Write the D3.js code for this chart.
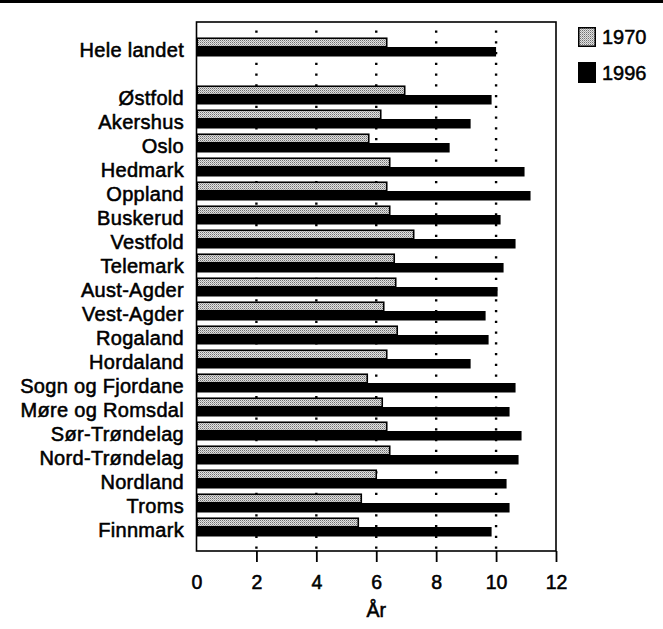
<!DOCTYPE html>
<html>
<head>
<meta charset="utf-8">
<script src="https://cdn.jsdelivr.net/npm/d3@7"></script>
<style>
  html, body { margin: 0; padding: 0; background: #fff; }
  svg { display: block; }
  text { font-family: "Liberation Sans", Arial, Helvetica, sans-serif; fill: #000; }
</style>
</head>
<body>
<svg id="chart" width="663" height="629"></svg>
<script>
// Regions (first row is the national total, followed by a blank spacer row)
const regions = ["Hele landet", "", "Østfold", "Akershus", "Oslo", "Hedmark", "Oppland",
  "Buskerud", "Vestfold", "Telemark", "Aust-Agder", "Vest-Agder", "Rogaland",
  "Hordaland", "Sogn og Fjordane", "Møre og Romsdal", "Sør-Trøndelag",
  "Nord-Trøndelag", "Nordland", "Troms", "Finnmark"];
const regionsWithData = regions.filter(d => d !== "");

// Years (År), one value per region with data
const values1970 = [6.35, 6.95, 6.15, 5.75, 6.45, 6.35, 6.45, 7.25, 6.6, 6.65,
  6.25, 6.7, 6.35, 5.7, 6.2, 6.35, 6.45, 6.0, 5.5, 5.4];
const values1996 = [10.0, 9.85, 9.15, 8.45, 10.95, 11.15, 10.15, 10.65, 10.25, 10.05,
  9.65, 9.75, 9.15, 10.65, 10.45, 10.85, 10.75, 10.35, 10.45, 9.85];

const seriesNames = ["1970", "1996"];
const xTicks = [0, 2, 4, 6, 8, 10, 12];
const gridTicks = [2, 4, 6, 8, 10];
const xTitle = "År";

const svg = d3.select("#chart");

const box = { left: 196.5, right: 556, top: 22, bottom: 551 };
const x = d3.scaleLinear().domain([0, 12]).range([box.left, box.right]);
const y = d3.scalePoint().domain(regions).range([47, 527]);
const barH = 9.5;

// Stippled fill for the 1970 series
const defs = svg.append("defs");
const pat = defs.append("pattern")
  .attr("id", "stipple")
  .attr("patternUnits", "userSpaceOnUse")
  .attr("width", 2).attr("height", 2);
pat.append("rect").attr("width", 2).attr("height", 2).attr("fill", "#e2e2e2");
pat.append("rect").attr("width", 1).attr("height", 1).attr("fill", "#707070");
pat.append("rect").attr("x", 1).attr("y", 1).attr("width", 1).attr("height", 1).attr("fill", "#a8a8a8");

// Heavy rule along the top edge
svg.append("rect").attr("x", 0).attr("y", 0).attr("width", 663).attr("height", 3).attr("fill", "#000");

// Dotted vertical gridlines
svg.append("g").selectAll("line")
  .data(gridTicks)
  .join("line")
  .attr("x1", d => x(d)).attr("x2", d => x(d))
  .attr("y1", 30.6).attr("y2", box.bottom)
  .attr("stroke", "#000")
  .attr("stroke-width", 2.4)
  .attr("stroke-dasharray", "2.2 8.55");

// Bars
const rows = regionsWithData.map((r, i) => ({ region: r, v1970: values1970[i], v1996: values1996[i] }));
const bars = svg.append("g");
bars.selectAll("rect.b1970")
  .data(rows)
  .join("rect")
  .attr("class", "b1970")
  .attr("x", x(0) + 0.75)
  .attr("y", d => y(d.region) - barH + 0.75)
  .attr("width", d => x(d.v1970) - x(0) - 0.75)
  .attr("height", barH - 1)
  .attr("fill", "url(#stipple)")
  .attr("stroke", "#000")
  .attr("stroke-width", 1.6);
bars.selectAll("rect.b1996")
  .data(rows)
  .join("rect")
  .attr("class", "b1996")
  .attr("x", x(0))
  .attr("y", d => y(d.region))
  .attr("width", d => x(d.v1996) - x(0))
  .attr("height", barH)
  .attr("fill", "#000");

// Frame
svg.append("rect")
  .attr("x", box.left).attr("y", box.top)
  .attr("width", box.right - box.left).attr("height", box.bottom - box.top)
  .attr("fill", "none").attr("stroke", "#000").attr("stroke-width", 1.6);

// Category labels
svg.append("g").selectAll("text")
  .data(regionsWithData)
  .join("text")
  .attr("x", 184)
  .attr("y", d => y(d) + 10)
  .attr("text-anchor", "end")
  .attr("font-size", 20)
  .attr("letter-spacing", 0.3)
  .attr("stroke", "#000").attr("stroke-width", 0.55)
  .text(d => d);

// Bottom axis
const axis = svg.append("g")
  .attr("transform", `translate(0,${box.bottom})`)
  .call(d3.axisBottom(x).tickValues(xTicks).tickSize(11).tickFormat(d3.format("d")));
axis.select(".domain").remove();
axis.selectAll(".tick line").attr("stroke", "#000").attr("stroke-width", 1.8)
  .filter(d => d === 0).remove();
axis.selectAll(".tick text")
  .attr("y", 38).attr("dy", 0)
  .attr("font-size", 19.5)
  .attr("font-family", "Liberation Sans, Arial, sans-serif")
  .attr("stroke", "#000").attr("stroke-width", 0.55);

svg.append("text")
  .attr("x", x(6)).attr("y", 617)
  .attr("text-anchor", "middle")
  .attr("font-size", 19.5)
  .attr("stroke", "#000").attr("stroke-width", 0.55)
  .text(xTitle);

// Legend
const legend = svg.append("g");
legend.append("rect")
  .attr("x", 578.75).attr("y", 27.75).attr("width", 16.5).attr("height", 18.5)
  .attr("fill", "url(#stipple)").attr("stroke", "#000").attr("stroke-width", 1.5);
legend.append("rect")
  .attr("x", 578).attr("y", 62).attr("width", 18).attr("height", 21)
  .attr("fill", "#000");
legend.selectAll("text")
  .data(seriesNames)
  .join("text")
  .attr("x", 602)
  .attr("y", (d, i) => i === 0 ? 44 : 80)
  .attr("font-size", 20)
  .attr("stroke", "#000").attr("stroke-width", 0.5)
  .text(d => d);
</script>
</body>
</html>
